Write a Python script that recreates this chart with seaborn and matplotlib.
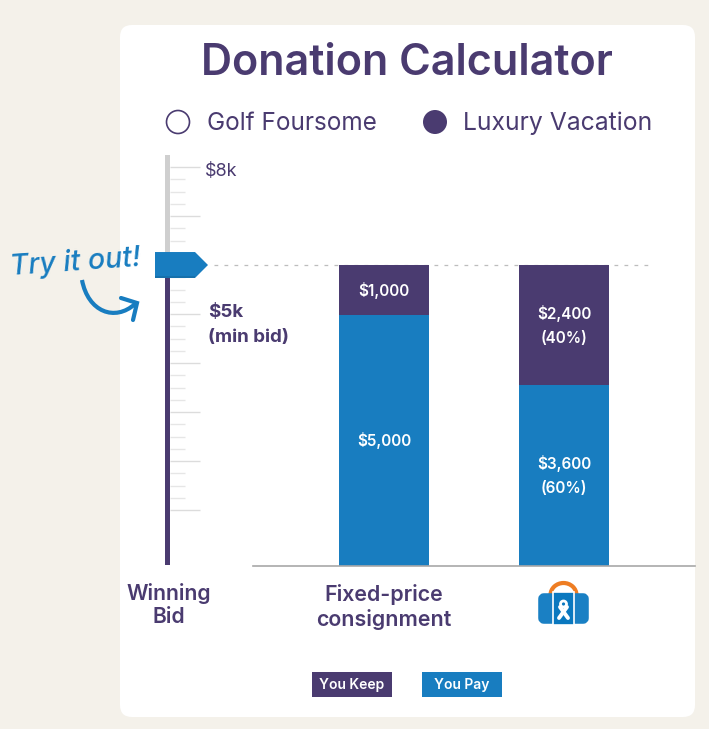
import numpy as np
import pandas as pd
import matplotlib
matplotlib.use("Agg")
import matplotlib.pyplot as plt
import seaborn as sns
from matplotlib.patches import Circle, FancyBboxPatch, PathPatch, Polygon, Rectangle, Arc
from matplotlib.path import Path

# chart values
categories = ["Fixed-price\nconsignment", "Luxury Vacation"]
you_pay = [5000, 3600]
you_keep = [1000, 2400]
pay_labels = ["$5,000", "$3,600\n(60%)"]
keep_labels = ["$1,000", "$2,400\n(40%)"]
winning_bid = 6000
slider_major = [1000, 2000, 3000, 4000, 5000, 6000, 7000, 8000]
slider_minor = [1250, 1500, 1750, 2250, 2500, 2750, 3250, 3500, 3750, 4250, 4500, 4750,
                5250, 5500, 5750, 6250, 6500, 6750, 7250, 7500, 7750]
legend_options = ["Golf Foursome", "Luxury Vacation"]
legend_keys = ["You Keep", "You Pay"]

PURPLE = "#4a3b70"
BLUE = "#187dc0"
W, H = 709, 729

sns.set_theme(style="white")
plt.rcParams["font.family"] = ["Inter", "DejaVu Sans"]

df = pd.DataFrame({"plan": categories, "pay": you_pay, "keep": you_keep})


def px_axes(fig, x0, y0, x1, y1, **kw):
    # axes placed with pixel coordinates measured from the top left
    return fig.add_axes([x0 / W, 1 - y1 / H, (x1 - x0) / W, (y1 - y0) / H], **kw)


fig = plt.figure(figsize=(W / 100, H / 100), dpi=100, facecolor="#f4f1ea")

# background layer, pixel coordinates
bg = px_axes(fig, 0, 0, W, H, zorder=0)
bg.set_xlim(0, W)
bg.set_ylim(H, 0)
bg.axis("off")
bg.add_patch(FancyBboxPatch((120, 25), 575, 692, boxstyle="round,pad=0,rounding_size=12",
                            mutation_scale=1, fc="white", ec="none"))
bg.text(407, 63, "Donation Calculator", ha="center", va="center", fontsize=31,
        fontweight=600, color=PURPLE)

# radio buttons
bg.add_patch(Circle((178, 122), 11.5, fc="white", ec=PURPLE, lw=1.2))
bg.add_patch(Circle((435, 122), 12, fc=PURPLE, ec=PURPLE, lw=0))
bg.text(207, 123, legend_options[0], ha="left", va="center", fontsize=17.5, color=PURPLE)
bg.text(463, 123, legend_options[1], ha="left", va="center", fontsize=17.8, color=PURPLE)

# try it out note
bg.text(75, 262, "Try it out!", ha="center", va="center", fontsize=20.5, style="italic",
        fontweight=500, color=BLUE, rotation=4)
arrow = Path([(82, 280), (88, 312), (115, 322), (135, 304)],
             [Path.MOVETO, Path.CURVE4, Path.CURVE4, Path.CURVE4])
bg.add_patch(PathPatch(arrow, fc="none", ec=BLUE, lw=3))
bg.plot([121, 137, 133], [298, 303, 320], color=BLUE, lw=3, solid_joinstyle="miter")

bg.text(169, 605, "Winning\nBid", ha="center", va="center", fontsize=15.2, fontweight=600,
        color=PURPLE, linespacing=1.22)

# bar legend chips
for x0, label, color in zip([312, 422], legend_keys, [PURPLE, BLUE]):
    bg.add_patch(Rectangle((x0, 672), 80, 25, fc=color, ec="none"))
    bg.text(x0 + 40, 684.5, label, ha="center", va="center", fontsize=10, fontweight=600,
            color="white")

# suitcase icon
bg.add_patch(Arc((563.5, 595), 26, 24, theta1=180, theta2=360, color="#ee7d23", lw=3))
bg.add_patch(FancyBboxPatch((541, 596), 45, 25, boxstyle="round,pad=0,rounding_size=3",
                            fc="#1a80c4", ec="#1a80c4", lw=4, joinstyle="round"))
bg.add_patch(Rectangle((553, 592), 21, 33, fc="#0a78bf", ec="white", lw=1.2))
bg.add_patch(Circle((563.5, 604), 3, fc="none", ec="white", lw=2))
bg.plot([560, 568], [607, 618], color="white", lw=2.8)
bg.plot([567, 559], [607, 618], color="white", lw=2.8)

# stacked bars, 180 px between categories and 50.17 px per 1000
ax = px_axes(fig, 253, 155, 695, 566, zorder=1)
ax.patch.set_alpha(0)
sns.barplot(data=df, x="plan", y="pay", color=BLUE, saturation=1, width=0.5, linewidth=0, ax=ax)
sns.barplot(data=df, x="plan", y="keep", color=PURPLE, saturation=1, width=0.5, linewidth=0,
            bottom=df["pay"].to_numpy(), ax=ax)
ax.set_xlim(-0.728, 1.728)
ax.set_ylim(0, 8192)
ax.bar_label(ax.containers[0], labels=pay_labels, label_type="center", color="white",
             fontsize=11, fontweight=600, linespacing=1.75)
ax.bar_label(ax.containers[1], labels=keep_labels, label_type="center", color="white",
             fontsize=11, fontweight=600, linespacing=1.75)
ax.hlines(winning_bid, -0.944, 1.478, colors="#bdbdbd", linestyles=(0, (3, 5)), lw=0.9,
          clip_on=False, zorder=0)
sns.despine(ax=ax, left=True)
ax.spines["bottom"].set_color("#a8a8a8")
ax.spines["bottom"].set_linewidth(1.2)
ax.set_yticks([])
ax.set_xlabel("")
ax.set_ylabel("")
ax.set_xticks([0, 1], [categories[0], ""])
ax.tick_params(axis="x", length=0, pad=13, labelsize=15.4, labelcolor=PURPLE)
for lab in ax.get_xticklabels():
    lab.set_fontweight(600)
    lab.set_linespacing(1.22)

# slider, own scale of 49 px per 1000
sl = px_axes(fig, 155, 155, 210, 565, zorder=2)
sl.patch.set_alpha(0)
sl.set_xlim(155, 210)
sl.set_ylim(-122, 8245)
sl.axis("off")
sl.bar(167.5, 8245 - winning_bid, width=5, bottom=winning_bid, color="#cfcfcf", linewidth=0, zorder=1)
sl.bar(167.5, winning_bid + 122, width=5, bottom=-122, color=PURPLE, linewidth=0, zorder=1)
sl.hlines(slider_major, 170, 200, colors="#dcdcdc", lw=1)
sl.hlines(slider_minor, 170, 185, colors="#e6e6e6", lw=1)
half = 265
sl.add_patch(Polygon([(155, winning_bid + half), (195, winning_bid + half), (208, winning_bid),
                      (195, winning_bid - half), (155, winning_bid - half)],
                     fc=BLUE, ec="none", zorder=3))
sl.add_patch(Rectangle((155, winning_bid - half), 40, 50, fc="#1670ab", ec="none", zorder=3))

# slider labels in the same value scale
sl.text(205, 7900, "$8k", ha="left", va="center", fontsize=13, color=PURPLE, clip_on=False)
sl.text(208, 5040, "$5k", ha="left", va="center", fontsize=13.5, fontweight="bold",
        color=PURPLE, clip_on=False)
sl.text(208, 4530, "(min bid)", ha="left", va="center", fontsize=13.5, fontweight="bold",
        color=PURPLE, clip_on=False)

fig.savefig("out.png", dpi=100, facecolor=fig.get_facecolor())
